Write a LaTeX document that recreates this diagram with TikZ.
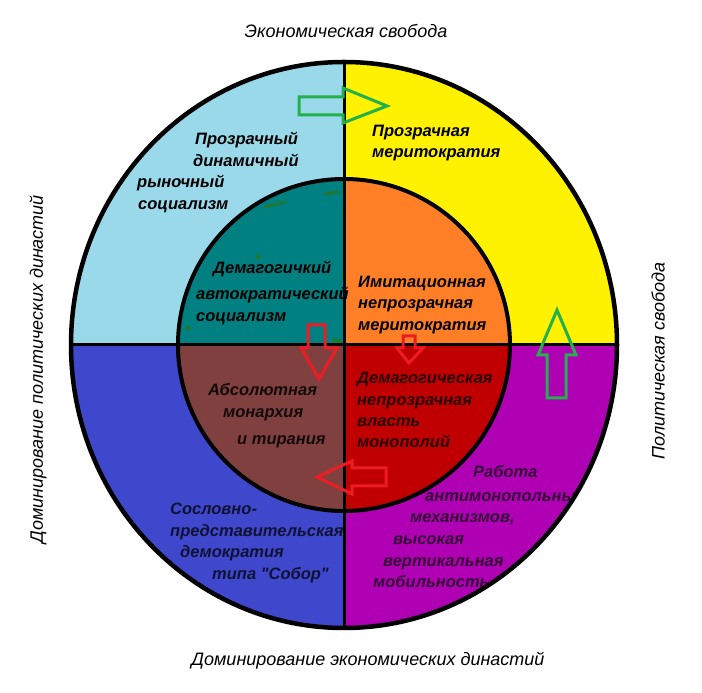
\documentclass[tikz,border=0pt]{standalone}
\usepackage{fontspec}
\setmainfont{Liberation Sans}
\newfontfamily\labelfont{Liberation Sans}
\definecolor{paleblue}{HTML}{99D9EA}
\definecolor{paintyellow}{HTML}{FFF200}
\definecolor{paintindigo}{HTML}{3F48CC}
\definecolor{paintpurple}{HTML}{B000B4}
\definecolor{innerteal}{HTML}{008080}
\definecolor{innerorange}{HTML}{FF7F27}
\definecolor{innerbrown}{HTML}{804040}
\definecolor{innerred}{HTML}{C00000}
\definecolor{arrowgreen}{HTML}{22B14C}
\definecolor{arrowred}{HTML}{ED1C24}
\definecolor{markgreen}{HTML}{1E7A32}
\begin{document}
\begin{tikzpicture}[x=1pt,y=1pt,
	quadtext/.style={anchor=base west, inner sep=0pt, font=\labelfont\bfseries\itshape\fontsize{16.5}{19}\selectfont},
	axistext/.style={inner sep=0pt, font=\labelfont\itshape\fontsize{18}{21}\selectfont},
	greenarrow/.style={draw=arrowgreen, line width=3pt},
	redarrow/.style={draw=arrowred, line width=3pt}]
	\useasboundingbox (0,0) rectangle (702,693);
	\coordinate (c) at (344,348);
	\coordinate (top) at (344,631);
	\coordinate (bot) at (344,65);
	\coordinate (lft) at (71,348);
	\coordinate (rgt) at (617,348);
	
	% outer ring
	\fill[paleblue] (c) -- ++(0,283) arc[start angle=90,end angle=180,x radius=273,y radius=283] -- cycle;
	\fill[paintyellow] (c) -- ++(273,0) arc[start angle=0,end angle=90,x radius=273,y radius=283] -- cycle;
	\fill[paintindigo] (c) -- ++(-273,0) arc[start angle=180,end angle=270,x radius=273,y radius=283] -- cycle;
	\fill[paintpurple] (c) -- ++(0,-283) arc[start angle=270,end angle=360,x radius=273,y radius=283] -- cycle;
	% inner disc
	\fill[innerteal] (c) -- ++(0,166) arc[start angle=90,end angle=180,radius=166] -- cycle;
	\fill[innerorange] (c) -- ++(166,0) arc[start angle=0,end angle=90,radius=166] -- cycle;
	\fill[innerbrown] (c) -- ++(-166,0) arc[start angle=180,end angle=270,radius=166] -- cycle;
	\fill[innerred] (c) -- ++(0,-166) arc[start angle=270,end angle=360,radius=166] -- cycle;
	
	% green marks
	\draw[markgreen, line width=3pt, line cap=round] (265,486) -- (285,491);
	\draw[markgreen, line width=3pt, line cap=round] (325,499) -- (338,501);
	\fill[markgreen] (258,436) circle[radius=2.5];
	\fill[markgreen] (188,365) circle[radius=2.5];
	\draw[markgreen, line width=4pt, line cap=round] (334,353) -- (341,351);
	
	\draw[line width=3pt] (top) -- (bot);
	\draw[line width=3pt] (lft) -- (rgt);
	\draw[line width=4pt] (c) circle[radius=166];
	
	\begin{scope}
		\clip (c) ellipse[x radius=273, y radius=283];
		\node[quadtext] (tla) at (195,548) {Прозрачный};
		\node[quadtext] (tlb) at (193,526) {динамичный};
		\node[quadtext] (tlc) at (137,505) {рыночный};
		\node[quadtext] (tld) at (138,483) {социализм};
		
		\node[quadtext] (tra) at (372,556) {Прозрачная};
		\node[quadtext] (trb) at (372,535) {меритократия};
		
		\node[quadtext] (ita) at (213,419) {Демагогичкий};
		\node[quadtext] (itb) at (196,393) {автократический};
		\node[quadtext] (itc) at (196,371) {социализм};
		
		\node[quadtext] (ira) at (358,405) {Имитационная};
		\node[quadtext] (irb) at (358,384) {непрозрачная};
		\node[quadtext] (irc) at (358,362) {меритократия};
		
		\node[quadtext, text=black!85!innerbrown] (iba) at (208,297) {Абсолютная};
		\node[quadtext, text=black!85!innerbrown] (ibb) at (223,275) {монархия};
		\node[quadtext, text=black!85!innerbrown] (ibc) at (237,248) {и тирания};
		
		\node[quadtext, text=black!80!innerred] (ida) at (357,309) {Демагогическая};
		\node[quadtext, text=black!80!innerred] (idb) at (357,287) {непрозрачная};
		\node[quadtext, text=black!80!innerred] (idc) at (357,266) {власть};
		\node[quadtext, text=black!80!innerred] (idd) at (357,245) {монополий};
		
		\node[quadtext, text=black!70!paintpurple] (bra) at (473,215) {Работа};
		\node[quadtext, text=black!70!paintpurple] (brb) at (425,191) {антимонопольных};
		\node[quadtext, text=black!70!paintpurple] (brc) at (410,170) {механизмов,};
		\node[quadtext, text=black!70!paintpurple] (brd) at (393,148) {высокая};
		\node[quadtext, text=black!70!paintpurple] (bre) at (383,126) {вертикальная};
		\node[quadtext, text=black!70!paintpurple] (brf) at (373,105) {мобильность};
		
		\node[quadtext, text=black!75!paintindigo] (bla) at (170,178) {Сословно-};
		\node[quadtext, text=black!75!paintindigo] (blb) at (170,156) {представительская};
		\node[quadtext, text=black!75!paintindigo] (blc) at (180,135) {демократия};
		\node[quadtext, text=black!75!paintindigo] (bld) at (212,113) {типа "Собор"};
	\end{scope}
	
	\draw[line width=4.5pt] (c) ellipse[x radius=273, y radius=283];
	
	% axis labels
	\node[axistext] (econfree) at (346,662) {Экономическая свобода};
	\node[axistext] (econdyn) at (368,32) {Доминирование экономических династий};
	\node[axistext, rotate=90] (poldyn) at (38,324) {Доминирование политических династий};
	\node[axistext, rotate=90] (polfree) at (658,332) {Политическая свобода};
	
	% arrows
	\draw[greenarrow] (299,596) -- (343,596) -- (343,605) -- (387,587) -- (343,570) -- (343,578) -- (299,578) -- cycle;
	\draw[greenarrow] (547,295) -- (547,338) -- (538,338) -- (557,383) -- (576,338) -- (566,338) -- (566,295) -- cycle;
	\draw[redarrow] (308,368) -- (308,345) -- (301,345) -- (319,314) -- (337,345) -- (325,345) -- (325,368) -- cycle;
	\draw[redarrow] (403,357) -- (403,345) -- (397,345) -- (409,330) -- (423,345) -- (415,345) -- (415,357) -- cycle;
	\draw[redarrow] (386,225) -- (352,225) -- (352,232) -- (317,216) -- (352,199) -- (352,207) -- (386,207) -- cycle;
\end{tikzpicture}
\end{document}
